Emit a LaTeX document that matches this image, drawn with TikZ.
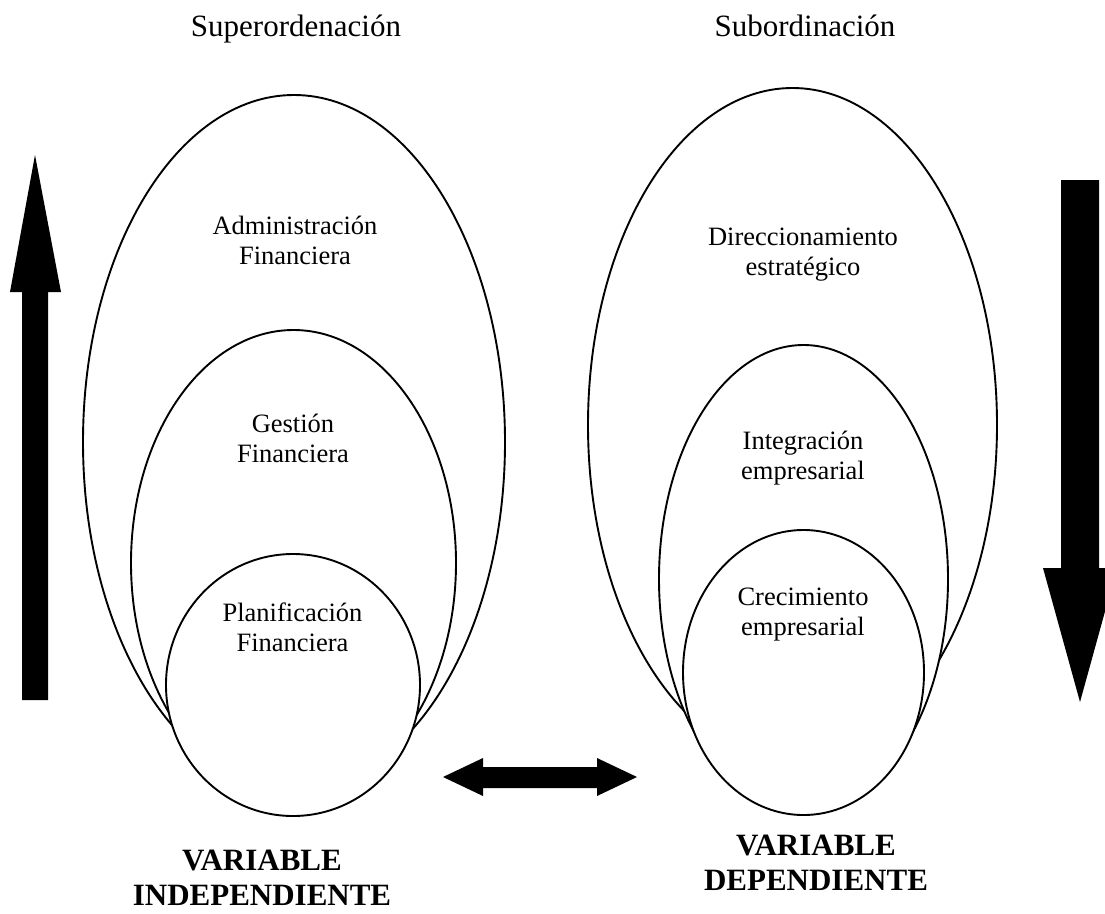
\documentclass[tikz,border=0pt]{standalone}
\usepackage{fontspec}
\setmainfont{Liberation Serif}
\usetikzlibrary{shapes.geometric}
\begin{document}
\begin{tikzpicture}[x=1pt,y=-1pt,
  ring/.style={ellipse, draw=black, line width=1.9pt, fill=white, inner sep=0pt},
  lbl/.style={font=\fontsize{26.5}{30}\selectfont, align=center, anchor=base, inner sep=0pt},
  ttl/.style={font=\fontsize{31}{34}\selectfont, anchor=base, inner sep=0pt},
  var/.style={font=\fontsize{31}{35}\selectfont\bfseries, align=center, anchor=base, inner sep=0pt},
  blk/.style={fill=black}]
\useasboundingbox (0,0) rectangle (1105,913);
\fill[white] (0,0) rectangle (1105,913);
% left group
\node[ring, minimum width=422pt, minimum height=694pt] (louter) at (294,442) {};
\node[ring, minimum width=325pt, minimum height=466pt] (lmid) at (293.5,563) {};
\node[ring, minimum width=254pt, minimum height=262pt] (linner) at (293,685) {};
% right group
\node[ring, minimum width=409pt, minimum height=674pt] (router) at (792.5,425) {};
\node[ring, minimum width=289pt, minimum height=468pt] (rmid) at (803.5,579) {};
\node[ring, minimum width=241pt, minimum height=285pt] (rinner) at (803.5,672.5) {};
% labels (anchor base = last line)
\node[lbl] (tadm) at (295,264) {Administración\\Financiera};
\node[lbl] (tges) at (293,462.5) {Gestión\\Financiera};
\node[lbl] (tpla) at (292.5,651) {Planificación\\Financiera};
\node[lbl] (tdir) at (803,275) {Direccionamiento\\estratégico};
\node[lbl] (tint) at (803,479) {Integración\\empresarial};
\node[lbl] (tcre) at (803,635) {Crecimiento\\empresarial};
% titles
\node[ttl] (tsup) at (296,36) {Superordenación};
\node[ttl] (tsub) at (805,36) {Subordinación};
% variable labels
\node[var] (vind) at (262,905) {VARIABLE\\INDEPENDIENTE};
\node[var] (vdep) at (816,890) {VARIABLE\\DEPENDIENTE};
% block arrows
\fill[blk] (35,155) -- (61,292) -- (48,292) -- (48,700) -- (22,700) -- (22,292) -- (10,292) -- cycle;
\fill[blk] (1061,180) -- (1099,180) -- (1099,568) -- (1117,568) -- (1080,702) -- (1043,568) -- (1061,568) -- cycle;
\fill[blk] (443,777) -- (483,758) -- (483,767) -- (597,767) -- (597,758) -- (637,777) -- (597,796) -- (597,788) -- (483,788) -- (483,796) -- cycle;
\end{tikzpicture}
\end{document}
